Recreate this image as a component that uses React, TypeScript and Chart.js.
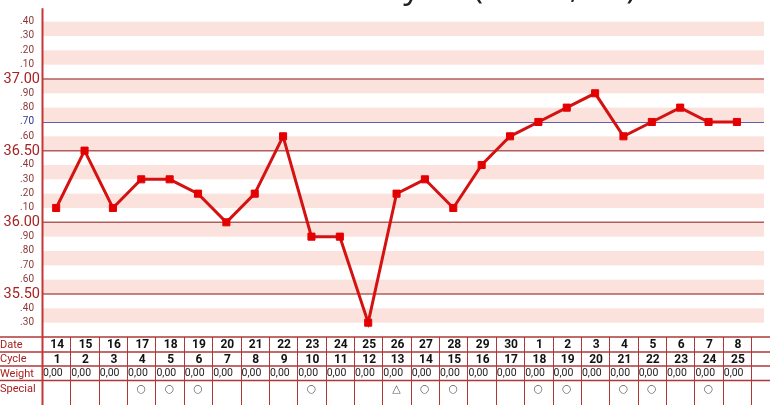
import React, { useEffect, useRef } from "react";
import { Chart, registerables } from "chart.js";

Chart.register(...registerables);

const dates = ["14", "15", "16", "17", "18", "19", "20", "21", "22", "23", "24", "25", "26", "27", "28", "29", "30", "1", "2", "3", "4", "5", "6", "7", "8"];
const cycleDays = [1, 2, 3, 4, 5, 6, 7, 8, 9, 10, 11, 12, 13, 14, 15, 16, 17, 18, 19, 20, 21, 22, 23, 24, 25];
const weights = [0, 0, 0, 0, 0, 0, 0, 0, 0, 0, 0, 0, 0, 0, 0, 0, 0, 0, 0, 0, 0, 0, 0, 0, 0];
const temperatures = [36.1, 36.5, 36.1, 36.3, 36.3, 36.2, 36.0, 36.2, 36.6, 35.9, 35.9, 35.3, 36.2, 36.3, 36.1, 36.4, 36.6, 36.7, 36.8, 36.9, 36.6, 36.7, 36.8, 36.7, 36.7];
const specialMarks = ["", "", "", "○", "○", "○", "", "", "", "○", "", "", "△", "○", "○", "", "", "○", "○", "", "○", "○", "", "○", ""];
const yTicks = [37.4, 37.3, 37.2, 37.1, 37.0, 36.9, 36.8, 36.7, 36.6, 36.5, 36.4, 36.3, 36.2, 36.1, 36.0, 35.9, 35.8, 35.7, 35.6, 35.5, 35.4, 35.3];
const majorLines = [37.0, 36.5, 36.0, 35.5];
const coverLine = 36.7;
const rowLabels = ["Date", "Cycle", "Weight", "Special"];
const titleLeft = "Cycle ";
const titleRight = "(14.08, 25)";

const Y_MIN = 35.2;
const Y_MAX = 37.5;
const COL_W = 28.6;

function tickLabel(v: number): string {
  const hundredths = Math.round(v * 100);
  if (hundredths % 50 === 0) return v.toFixed(2);
  return "." + String(hundredths % 100).padStart(2, "0");
}

const bbtPlugin = {
  id: "bbt",
  beforeDatasetsDraw(chart: any) {
    const { ctx, chartArea, scales } = chart;
    const y = scales.y;
    ctx.save();
    ctx.fillStyle = "rgb(251,226,220)";
    for (const t of yTicks) {
      const h = Math.round(t * 100);
      if (h % 20 === 0) {
        const y1 = y.getPixelForValue(t);
        const y2 = y.getPixelForValue(t - 0.1);
        ctx.fillRect(chartArea.left, y1, chartArea.right - chartArea.left, y2 - y1);
      }
    }
    ctx.strokeStyle = "rgb(178,92,92)";
    ctx.lineWidth = 1.5;
    for (const m of majorLines) {
      const py = y.getPixelForValue(m);
      ctx.beginPath();
      ctx.moveTo(chartArea.left, py);
      ctx.lineTo(chartArea.right, py);
      ctx.stroke();
    }
    const cy = Math.round(y.getPixelForValue(coverLine)) + 0.5;
    ctx.strokeStyle = "rgb(96,96,176)";
    ctx.lineWidth = 1.2;
    ctx.beginPath();
    ctx.moveTo(chartArea.left, cy);
    ctx.lineTo(chartArea.right, cy);
    ctx.stroke();
    ctx.restore();
  },
  afterDatasetsDraw(chart: any) {
    const { ctx, chartArea, scales, width, height } = chart;
    const x = scales.x;
    const y = scales.y;
    ctx.save();

    // title (clipped at the top of the picture)
    ctx.fillStyle = "#222";
    ctx.font = "34px 'Open Sans'";
    ctx.textBaseline = "alphabetic";
    ctx.textAlign = "right";
    ctx.fillText(titleLeft, 473, -2);
    ctx.textAlign = "left";
    ctx.fillText(titleRight, 473, -2);

    // y labels
    ctx.textBaseline = "middle";
    ctx.textAlign = "right";
    for (const t of yTicks) {
      const label = tickLabel(t);
      const py = y.getPixelForValue(t);
      if (label.startsWith(".")) {
        ctx.font = "10px Roboto";
        ctx.fillStyle = Math.abs(t - coverLine) < 1e-6 ? "rgb(50,50,150)" : "rgb(140,55,55)";
        ctx.fillText(label, 34, py);
      } else {
        ctx.font = "14.5px Roboto";
        ctx.fillStyle = "rgb(165,35,35)";
        ctx.fillText(label, 40, py + 0.5);
      }
    }

    // table
    const top = chartArea.bottom;
    const rows = [top, top + 15, top + 29, top + 43.5];
    ctx.strokeStyle = "rgb(175,55,55)";
    ctx.lineWidth = 1.3;
    for (const r of rows) {
      ctx.beginPath();
      ctx.moveTo(0, r);
      ctx.lineTo(width, r);
      ctx.stroke();
    }
    ctx.lineWidth = 1;
    for (let i = 0; i <= dates.length + 2; i++) {
      const px = Math.round(x.getPixelForValue(i + 0.5)) + 0.5;
      if (px > width) break;
      ctx.beginPath();
      ctx.moveTo(px, top);
      ctx.lineTo(px, height);
      ctx.stroke();
    }

    ctx.textAlign = "left";
    ctx.font = "11px Roboto";
    ctx.fillStyle = "rgb(165,35,35)";
    rowLabels.forEach((lab, k) => {
      const cyy = k < 3 ? (rows[k] + rows[k + 1]) / 2 : rows[3] + 8;
      ctx.fillText(lab, 0, cyy + 0.5);
    });

    for (let i = 0; i < dates.length; i++) {
      const cx = x.getPixelForValue(i);
      const left = x.getPixelForValue(i - 0.5);
      ctx.fillStyle = "#111";
      ctx.font = "bold 12px Roboto";
      ctx.textAlign = "center";
      ctx.fillText(dates[i], cx + 1, (rows[0] + rows[1]) / 2 + 0.5);
      ctx.fillText(String(cycleDays[i]), cx + 1, (rows[1] + rows[2]) / 2 + 0.5);
      ctx.font = "10.5px Roboto";
      ctx.textAlign = "left";
      ctx.fillStyle = "#222";
      ctx.fillText(weights[i].toFixed(2).replace(".", ","), left + 1, (rows[2] + rows[3]) / 2 + 0.5);
      if (specialMarks[i]) {
        ctx.textAlign = "center";
        ctx.font = "11px 'DejaVu Sans'";
        ctx.fillStyle = "#555";
        ctx.fillText(specialMarks[i], cx, rows[3] + 9);
      }
    }

    ctx.strokeStyle = "rgb(195,55,55)";
    ctx.lineWidth = 2;
    ctx.beginPath();
    ctx.moveTo(chartArea.left + 0.5, chartArea.top + 1);
    ctx.lineTo(chartArea.left + 0.5, height);
    ctx.stroke();

    ctx.restore();
  },
};

export default function App() {
  const ref = useRef<HTMLCanvasElement | null>(null);
  useEffect(() => {
    if (!ref.current) return;
    const plotWidth = 770 - 42;
    const chart = new Chart(ref.current, {
      type: "line",
      data: {
        datasets: [
          {
            data: temperatures.map((t, i) => ({ x: i, y: t })),
            borderColor: "rgb(212,18,18)",
            borderWidth: 3,
            pointStyle: "rect",
            pointRadius: 5,
            pointBorderWidth: 1,
            pointBackgroundColor: "rgb(228,0,0)",
            pointBorderColor: "rgb(228,0,0)",
            tension: 0,
          },
        ],
      },
      options: {
        animation: false,
        responsive: false,
        maintainAspectRatio: false,
        layout: { padding: { left: 42, right: 0, top: 7.3, bottom: 68 } },
        plugins: { legend: { display: false }, tooltip: { enabled: false }, title: { display: false } },
        scales: {
          x: { type: "linear", display: false, min: -0.5, max: -0.5 + plotWidth / COL_W },
          y: { type: "linear", display: false, min: Y_MIN, max: Y_MAX },
        },
      },
      plugins: [bbtPlugin],
    });
    return () => chart.destroy();
  }, []);
  return (
    <div style={{ position: "fixed", left: 0, top: 0, width: 770, height: 405, background: "#fff" }}>
      <canvas ref={ref} width={770} height={405} style={{ width: 770, height: 405, display: "block" }} />
    </div>
  );
}
